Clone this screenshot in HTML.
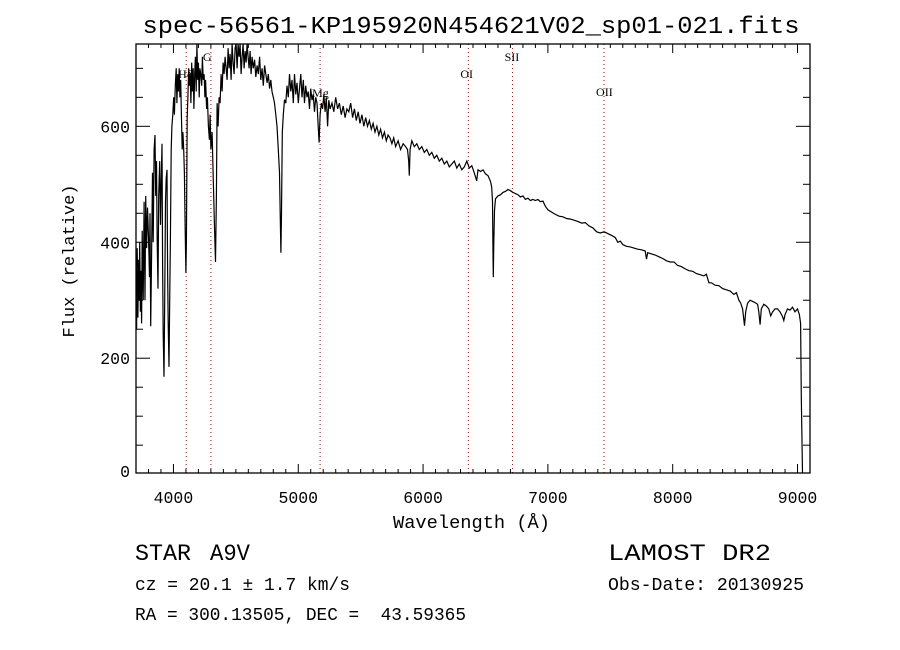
<!DOCTYPE html>
<html><head><meta charset="utf-8"><style>
html,body{margin:0;padding:0;background:#fff;}
svg{display:block;}
text{font-family:"Liberation Mono",monospace;fill:#000;}
.tk{font-family:"Liberation Mono",monospace;font-size:16.5px;}
.lb{font-family:"Liberation Serif",serif;}
</style></head><body>
<svg id="chart" width="900" height="650" viewBox="0 0 900 650">
<rect x="0" y="0" width="900" height="650" fill="#fff"/>
<text x="471" y="33" font-size="24.5" text-anchor="middle" textLength="657" lengthAdjust="spacingAndGlyphs">spec-56561-KP195920N454621V02_sp01-021.fits</text>
<g id="lines"></g>
<g id="spec"></g>
<g id="axes"></g>
<text x="393" y="528" font-size="18.5" textLength="157" lengthAdjust="spacingAndGlyphs">Wavelength (Å)</text>
<text transform="translate(74,261) rotate(-90)" font-size="17" text-anchor="middle">Flux (relative)</text>
<text x="135" y="560" font-size="23" textLength="56" lengthAdjust="spacingAndGlyphs">STAR</text>
<text x="210" y="560" font-size="23" textLength="40" lengthAdjust="spacingAndGlyphs">A9V</text>
<text x="135" y="590" font-size="18" textLength="215" lengthAdjust="spacingAndGlyphs">cz = 20.1 ± 1.7 km/s</text>
<text x="135" y="620" font-size="18" xml:space="preserve" textLength="331" lengthAdjust="spacingAndGlyphs">RA = 300.13505, DEC =  43.59365</text>
<text x="608" y="560" font-size="23" textLength="163" lengthAdjust="spacingAndGlyphs">LAMOST DR2</text>
<text x="608" y="590" font-size="18" textLength="196" lengthAdjust="spacingAndGlyphs">Obs-Date: 20130925</text>
</svg>
<script>
const wave=[3700,3705,3710,3715,3720,3725,3730,3735,3740,3745,3750,3758,3765,3772,3778,3785,3792,3800,3808,3812,3818,3825,3832,3838,3845,3852,3858,3864,3870,3876,3882,3890,3896,3902,3908,3913,3918,3924,3930,3936,3942,3948,3953,3958,3964,3970,3976,3982,3988,3995,4002,4008,4015,4022,4028,4034,4040,4046,4052,4058,4064,4070,4076,4082,4088,4094,4100,4104,4110,4116,4122,4128,4134,4140,4146,4152,4158,4164,4170,4176,4182,4188,4194,4200,4206,4212,4218,4226,4232,4238,4246,4252,4258,4266,4272,4280,4288,4294,4300,4310,4320,4330,4337,4344,4350,4358,4366,4374,4382,4390,4398,4406,4414,4422,4430,4438,4446,4454,4462,4470,4478,4486,4494,4502,4510,4518,4526,4534,4542,4550,4558,4566,4574,4582,4590,4598,4606,4614,4622,4630,4640,4650,4660,4670,4680,4690,4700,4710,4720,4730,4740,4750,4760,4770,4780,4790,4800,4810,4820,4830,4840,4850,4856,4861,4866,4872,4880,4890,4900,4910,4920,4930,4940,4950,4960,4970,4980,4990,5000,5010,5020,5030,5040,5050,5060,5070,5080,5090,5100,5110,5120,5130,5140,5150,5160,5167,5175,5185,5195,5205,5215,5225,5235,5245,5255,5270,5285,5300,5315,5330,5345,5360,5375,5390,5405,5420,5435,5450,5465,5480,5495,5510,5525,5540,5555,5570,5585,5600,5615,5630,5645,5660,5675,5690,5705,5720,5735,5750,5765,5780,5800,5820,5840,5860,5875,5885,5890,5896,5910,5930,5950,5970,5990,6010,6030,6050,6070,6090,6110,6130,6150,6170,6190,6210,6230,6250,6270,6290,6310,6330,6350,6370,6390,6410,6430,6440,6460,6480,6500,6520,6540,6550,6556,6560,6563,6567,6572,6580,6600,6620,6640,6660,6680,6700,6720,6740,6760,6780,6800,6820,6840,6860,6880,6900,6920,6940,6960,6980,7000,7030,7060,7090,7120,7150,7180,7210,7240,7270,7300,7330,7360,7390,7420,7450,7480,7510,7540,7560,7580,7600,7630,7660,7690,7720,7750,7780,7790,7800,7830,7860,7890,7920,7950,7980,8010,8040,8070,8100,8130,8160,8190,8220,8250,8270,8290,8310,8340,8370,8400,8430,8460,8490,8510,8530,8545,8560,8575,8585,8600,8620,8640,8660,8680,8690,8700,8710,8730,8750,8770,8785,8800,8820,8840,8860,8880,8890,8900,8920,8940,8960,8980,9000,9015,9025,9030,9040];
const flux=[360,250,390,270,370,300,400,280,350,260,420,300,470,300,480,390,460,410,340,450,255,380,520,400,560,585,480,540,400,320,480,540,430,500,570,360,240,168,300,470,510,525,350,260,185,300,405,560,600,620,650,620,670,700,640,690,660,700,650,680,620,560,590,560,520,420,347,400,616,650,700,670,690,640,710,660,700,630,690,720,660,742,680,710,650,700,690,670,720,680,690,650,680,630,650,600,577,620,560,590,500,420,366,480,640,600,650,640,690,660,710,690,720,700,680,735,700,725,680,742,710,690,735,742,700,742,720,742,690,720,742,700,730,710,742,720,700,730,690,720,700,715,685,705,690,720,680,700,670,705,690,675,690,665,680,660,650,640,620,600,560,520,440,382,450,589,620,646,640,670,650,690,660,680,640,690,655,675,640,665,690,650,680,640,670,650,660,630,665,645,655,625,650,640,600,572,620,640,630,655,625,650,600,645,630,640,625,650,630,640,620,635,615,630,625,640,615,630,610,625,605,620,600,615,600,610,595,605,590,600,585,595,580,590,575,585,580,570,580,565,575,560,570,565,560,540,515,560,575,565,570,560,565,555,560,550,555,545,550,540,545,535,540,530,535,540,528,535,525,530,540,528,532,520,506,525,522,525,518,515,505,495,470,380,340,400,455,475,480,482,486,488,491,489,486,484,482,478,480,474,476,472,474,472,474,470,471,462,456,452,448,445,444,441,440,438,436,433,434,428,425,418,416,418,415,412,408,400,402,396,393,392,390,388,387,385,371,382,380,378,375,372,368,366,366,360,358,354,351,350,346,344,342,345,330,330,326,325,320,318,316,310,313,300,295,285,256,280,295,300,298,296,293,280,258,285,293,290,285,273,280,285,285,280,272,265,275,285,283,288,280,285,275,260,133,0];
const xTicks=[4000,5000,6000,7000,8000,9000];
const yTicks=[0,200,400,600];
const lineNames=["Hδ","G","Mg","OI","SII","OII"];
const lineWaves=[4102,4300,5175,6363,6717,7450];
const lineLabelY=[78,61,97,78,61,96];

const L=136,R=810,T=44,B=473;
const XMIN=3700,XMAX=9100,YMIN=2,YMAX=742;
const xs=w=>L+(w-XMIN)/(XMAX-XMIN)*(R-L);
const ys=f=>B-(f-YMIN)/(YMAX-YMIN)*(B-T);
const NS="http://www.w3.org/2000/svg";
function mk(tag,attrs,parent){const e=document.createElementNS(NS,tag);for(const k in attrs)e.setAttribute(k,attrs[k]);parent.appendChild(e);return e;}

const lg=document.getElementById('lines');
lineWaves.forEach((w,i)=>{
  const l=mk('line',{x1:xs(w),x2:xs(w),y1:T,y2:B,stroke:'#8b1a1a','stroke-width':1,'stroke-dasharray':'1 3'},lg);
  
  
  const t=mk('text',{x:xs(w)-8,y:lineLabelY[i],'font-size':12,class:'lb'},lg);
  t.textContent=lineNames[i];
  
  
});

const sg=document.getElementById('spec');
const cp=mk('clipPath',{id:'plotclip'},sg);
mk('rect',{x:L,y:T,width:R-L,height:B-T},cp);
let d='';
wave.forEach((w,i)=>{const f=Math.max(YMIN,Math.min(YMAX,flux[i]));d+=(i?'L':'M')+xs(w).toFixed(1)+' '+ys(f).toFixed(1);});
const p=mk('path',{d:d,fill:'none',stroke:'#000','stroke-width':1.2,'clip-path':'url(#plotclip)'},sg);



const ag=document.getElementById('axes');
const fr=mk('rect',{x:L,y:T,width:R-L,height:B-T,fill:'none',stroke:'#000','stroke-width':1.3},ag);


for(let w=3700;w<=XMAX;w+=100){
  const major=w%1000===0;const len=major?9:4;const x=xs(w);
  mk('line',{x1:x,x2:x,y1:B,y2:B-len,stroke:'#000','stroke-width':1},ag);
  mk('line',{x1:x,x2:x,y1:T,y2:T+len,stroke:'#000','stroke-width':1},ag);
}
xTicks.forEach(w=>{
  const t=mk('text',{x:xs(w),y:B+30,'text-anchor':'middle',class:'tk'},ag);
  t.textContent=w;
  
  
});
for(let f=0;f<=YMAX;f+=50){
  if(f<YMIN)continue;
  const major=f%200===0;const len=major?14:7;const y=ys(f);
  mk('line',{x1:L,x2:L+len,y1:y,y2:y,stroke:'#000','stroke-width':1},ag);
  mk('line',{x1:R,x2:R-len,y1:y,y2:y,stroke:'#000','stroke-width':1},ag);
}
yTicks.forEach(f=>{
  const t=mk('text',{x:L-6,y:Math.min(ys(f),B-2)+6,'text-anchor':'end',class:'tk'},ag);
  t.textContent=f;
  
  
});
</script>
</body></html>
